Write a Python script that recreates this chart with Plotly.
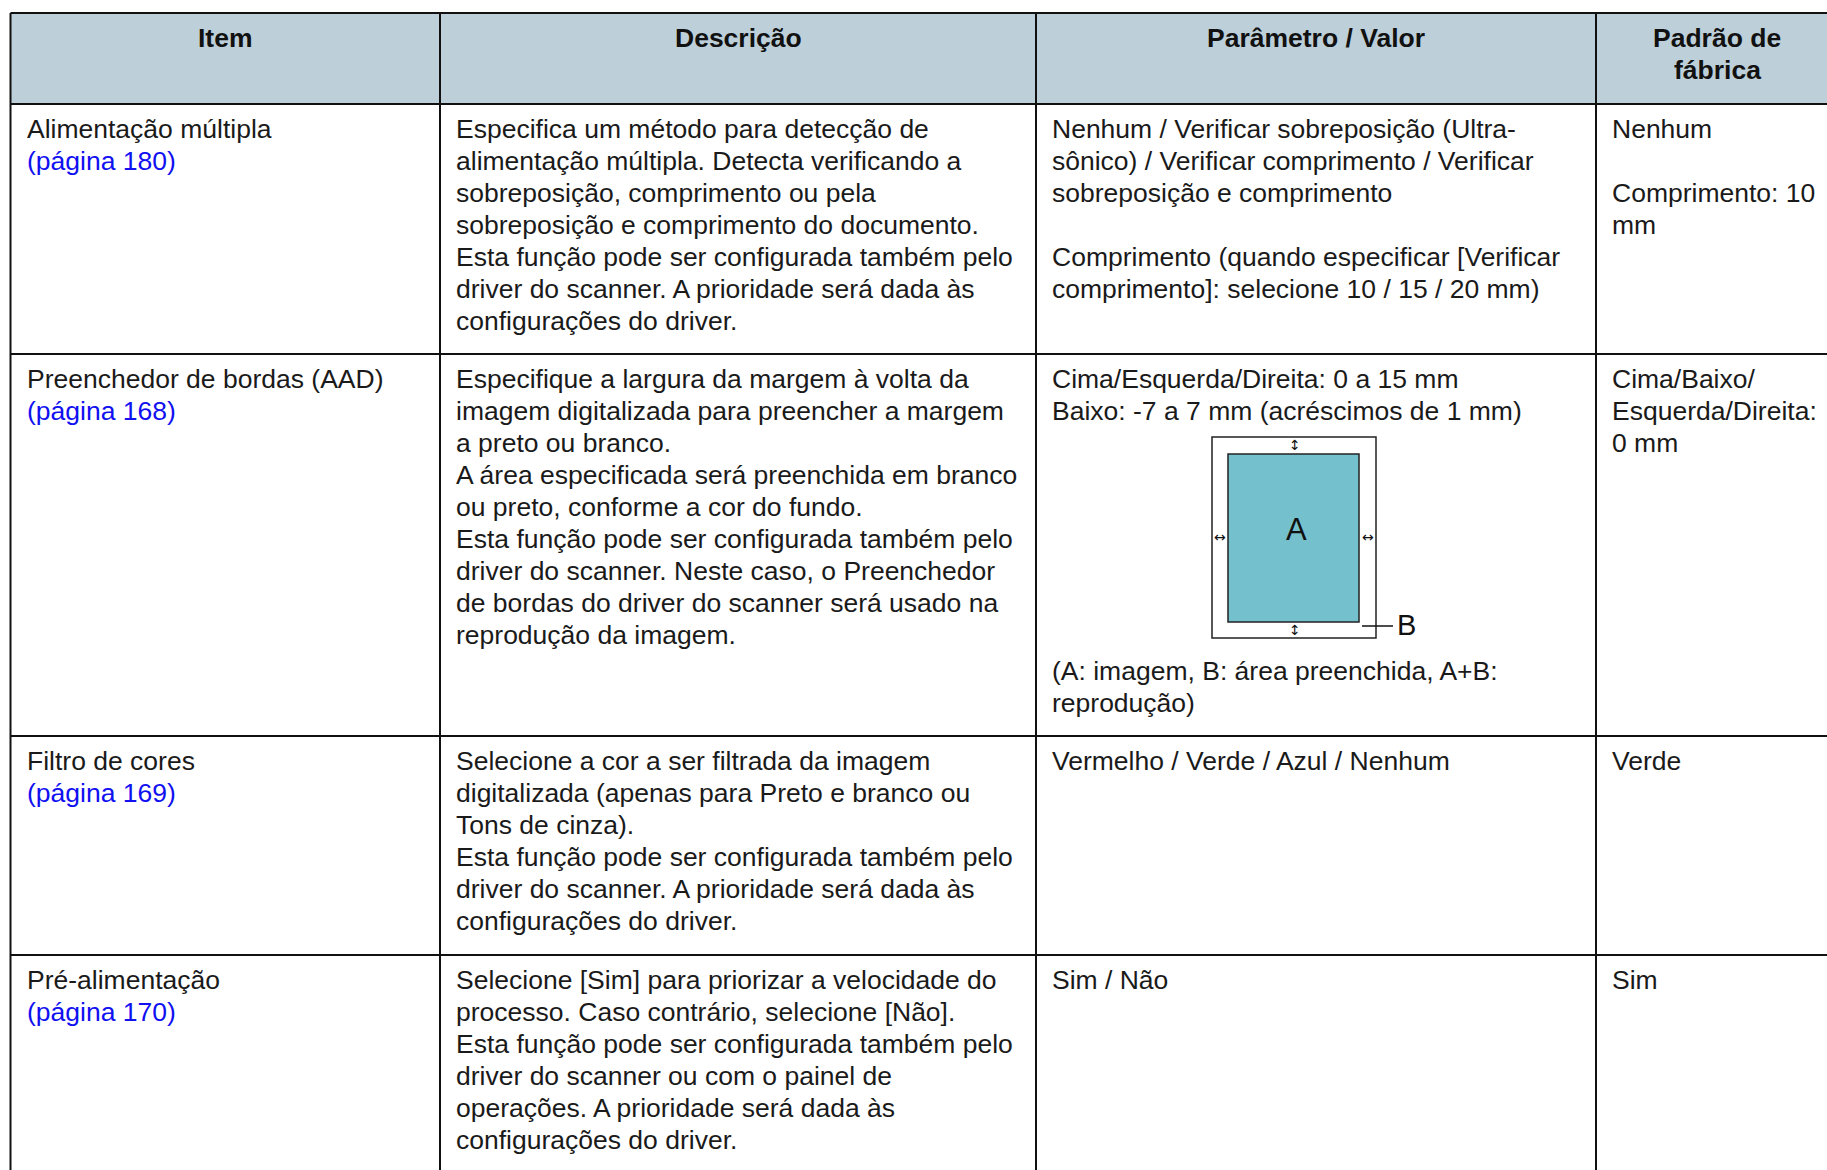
import plotly.graph_objects as go

# ---------------- data ----------------
headers = [["Item"], ["Descrição"], ["Parâmetro / Valor"], ["Padrão de", "fábrica"]]

items = ["Alimentação múltipla", "Preenchedor de bordas (AAD)", "Filtro de cores", "Pré-alimentação"]
page_links = ["(página 180)", "(página 168)", "(página 169)", "(página 170)"]

descriptions = [
    ["Especifica um método para detecção de",
     "alimentação múltipla. Detecta verificando a",
     "sobreposição, comprimento ou pela",
     "sobreposição e comprimento do documento.",
     "Esta função pode ser configurada também pelo",
     "driver do scanner. A prioridade será dada às",
     "configurações do driver."],
    ["Especifique a largura da margem à volta da",
     "imagem digitalizada para preencher a margem",
     "a preto ou branco.",
     "A área especificada será preenchida em branco",
     "ou preto, conforme a cor do fundo.",
     "Esta função pode ser configurada também pelo",
     "driver do scanner. Neste caso, o Preenchedor",
     "de bordas do driver do scanner será usado na",
     "reprodução da imagem."],
    ["Selecione a cor a ser filtrada da imagem",
     "digitalizada (apenas para Preto e branco ou",
     "Tons de cinza).",
     "Esta função pode ser configurada também pelo",
     "driver do scanner. A prioridade será dada às",
     "configurações do driver."],
    ["Selecione [Sim] para priorizar a velocidade do",
     "processo. Caso contrário, selecione [Não].",
     "Esta função pode ser configurada também pelo",
     "driver do scanner ou com o painel de",
     "operações. A prioridade será dada às",
     "configurações do driver."],
]

parameters = [
    ["Nenhum / Verificar sobreposição (Ultra-",
     "sônico) / Verificar comprimento / Verificar",
     "sobreposição e comprimento",
     "",
     "Comprimento (quando especificar [Verificar",
     "comprimento]: selecione 10 / 15 / 20 mm)"],
    ["Cima/Esquerda/Direita: 0 a 15 mm",
     "Baixo: -7 a 7 mm (acréscimos de 1 mm)"],
    ["Vermelho / Verde / Azul / Nenhum"],
    ["Sim / Não"],
]
diagram_caption = ["(A: imagem, B: área preenchida, A+B:", "reprodução)"]
diagram_labels = ["A", "B"]

defaults = [
    ["Nenhum", "", "Comprimento: 10", "mm"],
    ["Cima/Baixo/", "Esquerda/Direita:", "0 mm"],
    ["Verde"],
    ["Sim"],
]

# ---------------- layout constants ----------------
W, H = 1827, 1170
col_x = [10.5, 440, 1036, 1596, 1840]
row_y = [13, 104, 354, 736, 955, 1250]
PAD_X = 14
FIRST = 25
LH = 32.0
FS = 26.5
FONT = "Liberation Sans, Arial, sans-serif"
HEADER_BG = "#BDCFD9"
CYAN = "#74C1CD"
TEXT = "#1a1a1a"
LINK = "#1010F0"

fig = go.Figure()
annotations = []
shapes = []

def add_lines(lines, x, y0, color=TEXT, bold=False, anchor="left"):
    for i, t in enumerate(lines):
        if not t:
            continue
        annotations.append(dict(
            x=x, y=y0 + i * LH, xref="x", yref="y", text=("<b>%s</b>" % t) if bold else t,
            showarrow=False, xanchor=anchor, yanchor="middle",
            font=dict(family=FONT, size=FS, color=color if not bold else "#111111"),
        ))

# header background
shapes.append(dict(type="rect", xref="x", yref="y", x0=col_x[0], x1=col_x[-1],
                   y0=row_y[0], y1=row_y[1], fillcolor=HEADER_BG, line=dict(width=0), layer="below"))

# header texts
for c, lines in enumerate(headers):
    cx = (col_x[c] + col_x[c + 1]) / 2
    if c == 3:
        cx = 1717
    add_lines(lines, cx, row_y[0] + FIRST, bold=True, anchor="center")

# body
for r in range(4):
    top = row_y[r + 1] + FIRST
    add_lines([items[r]], col_x[0] + PAD_X, top)
    add_lines([page_links[r]], col_x[0] + PAD_X, top + LH, color=LINK)
    add_lines(descriptions[r], col_x[1] + PAD_X, top)
    add_lines(parameters[r], col_x[2] + PAD_X, top)
    add_lines(defaults[r], col_x[3] + PAD_X, top)

# diagram caption in row 2
add_lines(diagram_caption, col_x[2] + PAD_X, 671)

# diagram
shapes.append(dict(type="rect", xref="x", yref="y", x0=1212, x1=1376, y0=437, y1=638,
                   fillcolor="white", line=dict(color="#222222", width=1.5)))
shapes.append(dict(type="rect", xref="x", yref="y", x0=1228, x1=1359, y0=454, y1=622,
                   fillcolor=CYAN, line=dict(color="#222222", width=1.5)))
shapes.append(dict(type="line", xref="x", yref="y", x0=1362, x1=1393, y0=626, y1=626,
                   line=dict(color="#111111", width=1.5)))
annotations.append(dict(x=1296, y=529, xref="x", yref="y", text=diagram_labels[0], showarrow=False,
                        xanchor="center", yanchor="middle", font=dict(family=FONT, size=31, color="#111111")))
annotations.append(dict(x=1395, y=625, xref="x", yref="y", text=diagram_labels[1], showarrow=False,
                        xanchor="left", yanchor="middle", font=dict(family=FONT, size=29, color="#111111")))

# small double arrows (glyphs)
arrow_glyphs = [("↕", 1295, 445), ("↕", 1295, 630), ("↔", 1220, 537), ("↔", 1367.5, 537)]
for g, x, y in arrow_glyphs:
    annotations.append(dict(x=x, y=y, xref="x", yref="y", text=g, showarrow=False,
                            xanchor="center", yanchor="middle",
                            font=dict(family="DejaVu Sans", size=14, color="#111111")))

# grid lines
for y in row_y[:-1]:
    shapes.append(dict(type="line", xref="x", yref="y", x0=col_x[0], x1=col_x[-1], y0=y, y1=y,
                       line=dict(color="#111111", width=2)))
for x in col_x[:-1]:
    shapes.append(dict(type="line", xref="x", yref="y", x0=x, x1=x, y0=row_y[0], y1=row_y[-1],
                       line=dict(color="#111111", width=2)))

fig.update_layout(
    width=W, height=H, margin=dict(l=0, r=0, t=0, b=0),
    paper_bgcolor="white", plot_bgcolor="white",
    xaxis=dict(range=[0, W], visible=False, fixedrange=True),
    yaxis=dict(range=[H, 0], visible=False, fixedrange=True),
    shapes=shapes, annotations=annotations, showlegend=False,
)
fig.write_html("out.html", config={"displayModeBar": False},
               post_script="document.body.style.margin='0';document.body.style.overflow='hidden';")
